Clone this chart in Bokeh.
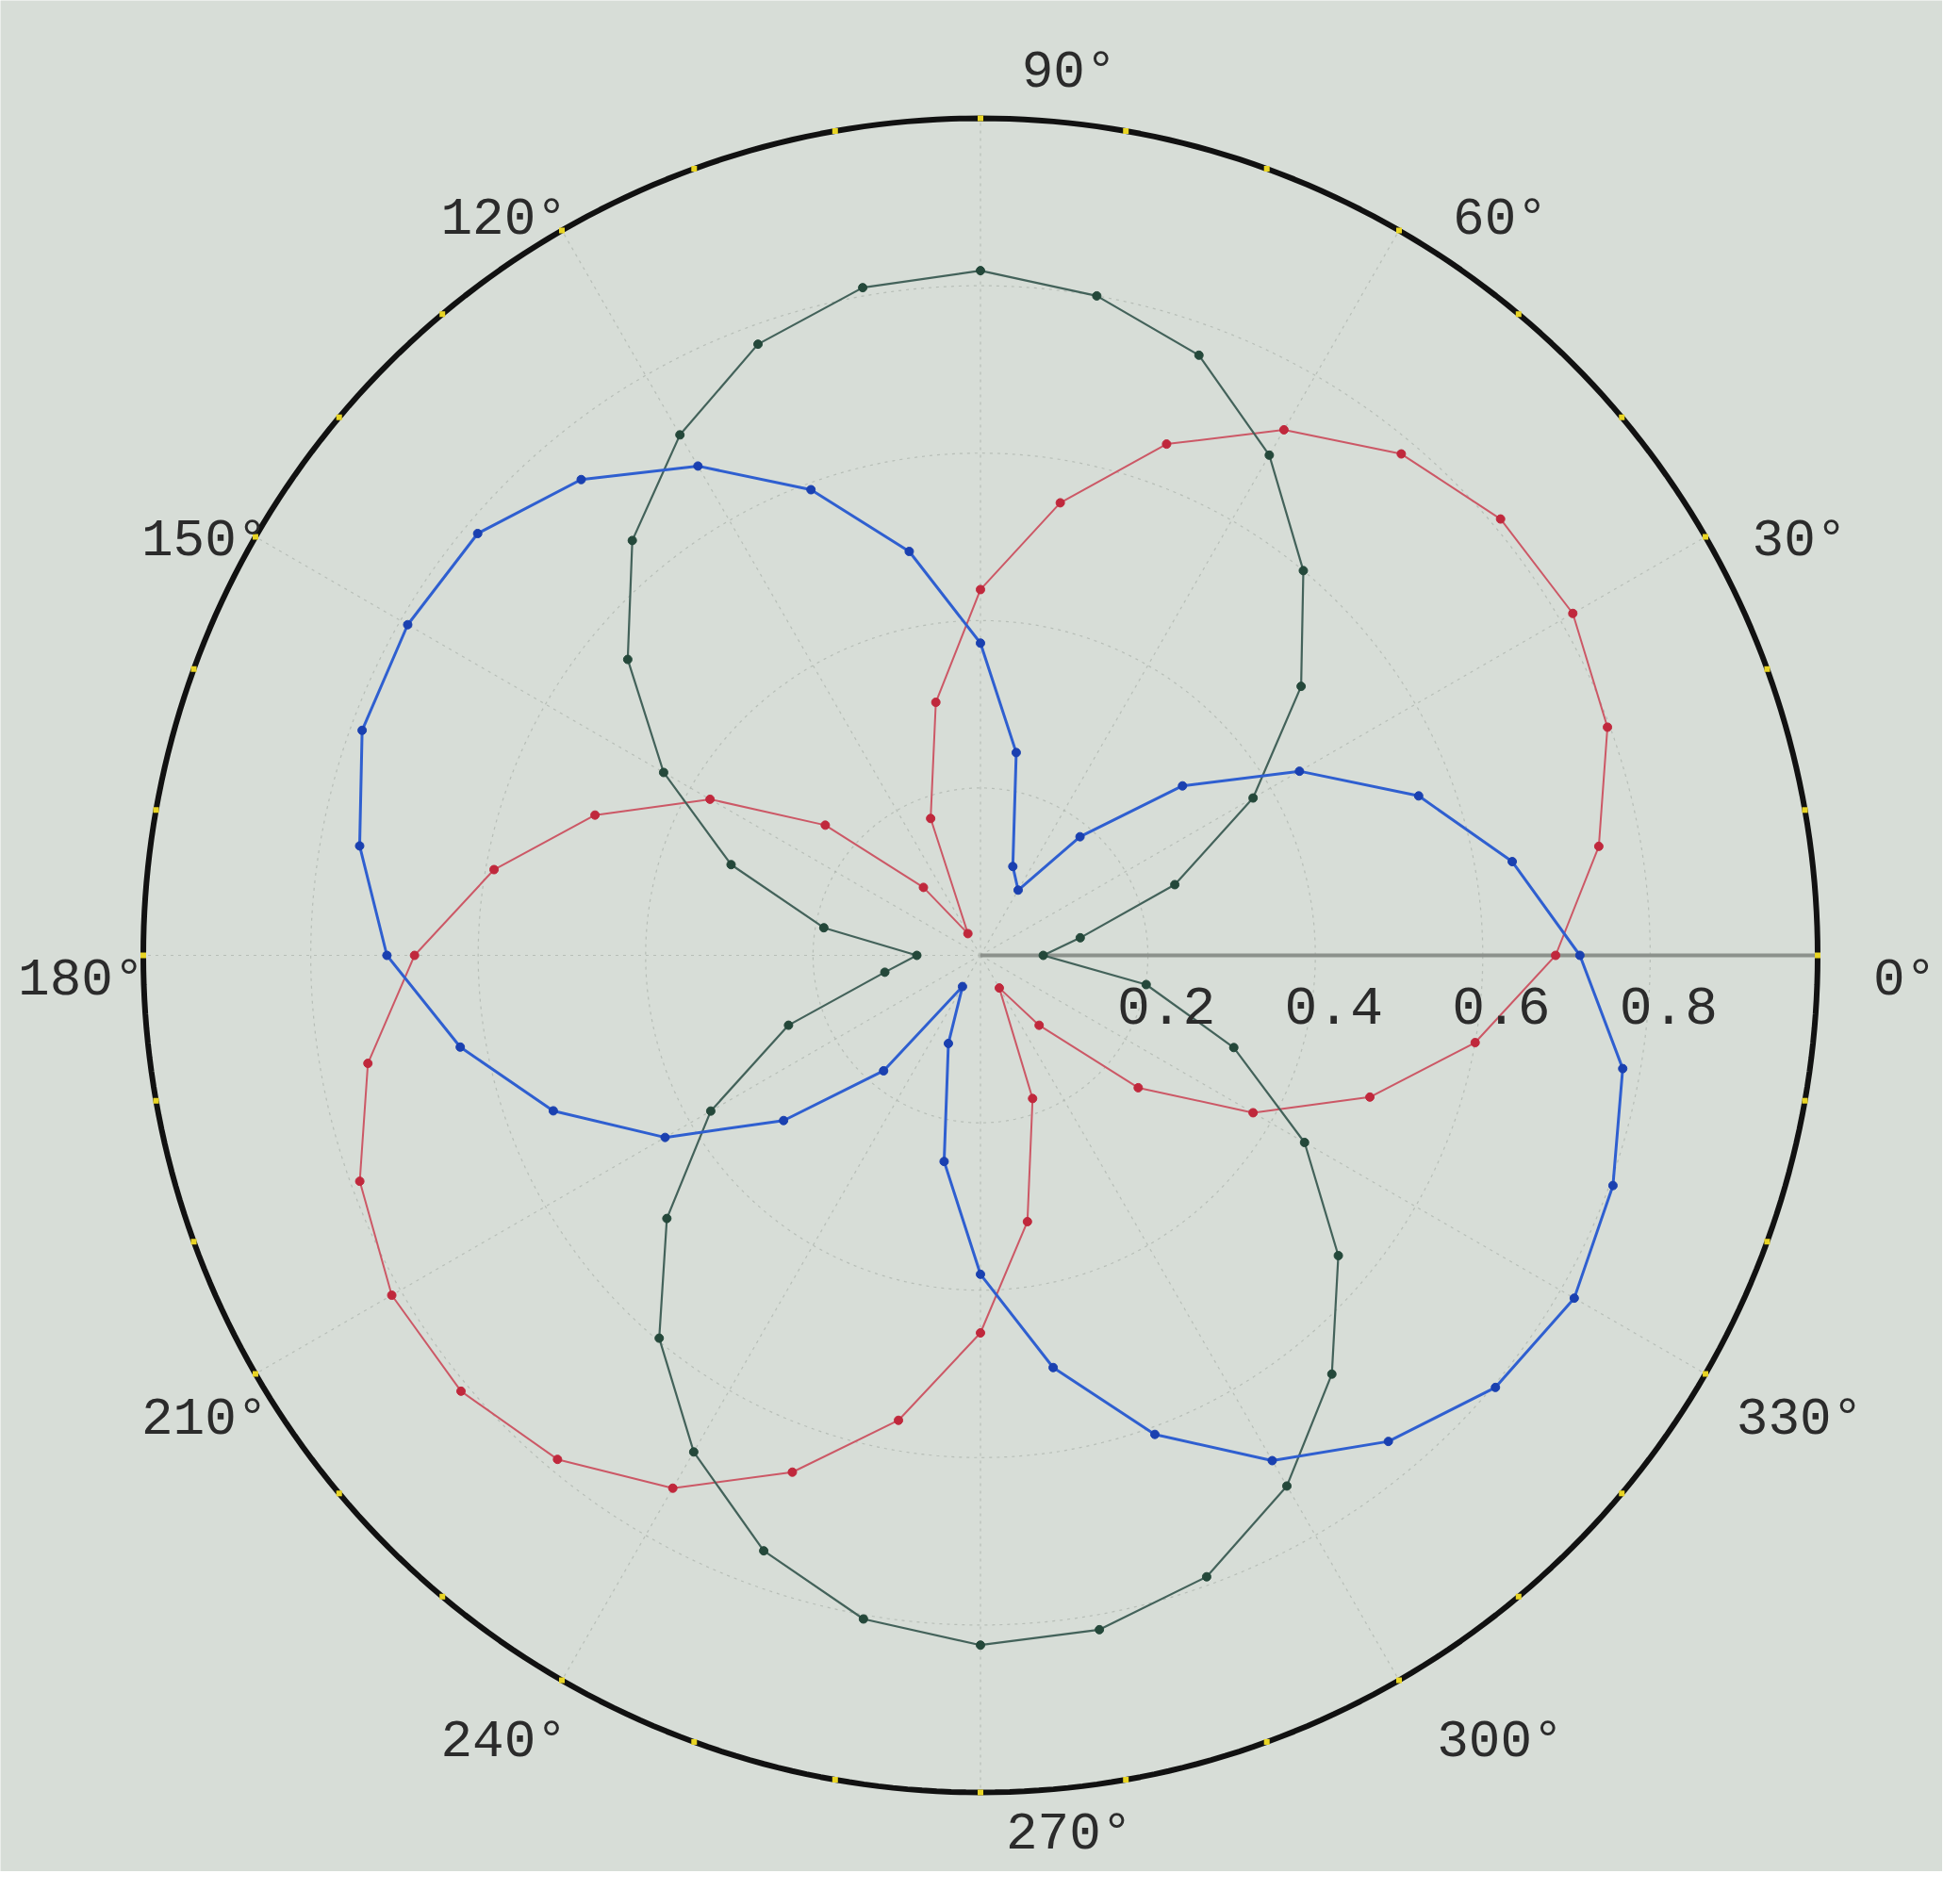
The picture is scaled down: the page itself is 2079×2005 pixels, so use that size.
import numpy as np
from bokeh.plotting import figure
from bokeh.models import Range1d
from bokeh.embed import file_html
from bokeh.resources import INLINE
from bokeh.core.properties import value

# ---- data ----
theta_deg = [0, 10, 20, 30, 40, 50, 60, 70, 80, 90, 100, 110,
             120, 130, 140, 150, 160, 170, 180, 190, 200, 210, 220, 230,
             240, 250, 260, 270, 280, 290, 300, 310, 320, 330, 340, 350]

r_blue = [0.716, 0.645, 0.557, 0.440, 0.315, 0.185, 0.090, 0.113, 0.246, 0.373, 0.490, 0.592,
          0.675, 0.742, 0.784, 0.790, 0.786, 0.753, 0.709, 0.631, 0.543, 0.435, 0.307, 0.180,
          0.043, 0.112, 0.250, 0.381, 0.500, 0.609, 0.697, 0.758, 0.803, 0.819, 0.804, 0.779]

r_red = [0.687, 0.750, 0.797, 0.817, 0.811, 0.782, 0.725, 0.650, 0.549, 0.437, 0.307, 0.174,
         0.030, 0.106, 0.242, 0.373, 0.490, 0.590, 0.676, 0.743, 0.789, 0.812, 0.810, 0.786,
         0.735, 0.657, 0.564, 0.451, 0.323, 0.182, 0.045, 0.109, 0.246, 0.376, 0.495, 0.600]

r_green = [0.075, 0.121, 0.247, 0.376, 0.500, 0.600, 0.690, 0.763, 0.800, 0.818, 0.810, 0.777,
           0.718, 0.647, 0.550, 0.437, 0.317, 0.190, 0.076, 0.116, 0.244, 0.372, 0.489, 0.597,
           0.685, 0.757, 0.805, 0.824, 0.818, 0.790, 0.732, 0.653, 0.558, 0.447, 0.322, 0.201]

angle_ticks = [0, 30, 60, 90, 120, 150, 180, 210, 240, 270, 300, 330]
angle_labels = ["0°", "30°", "60°", "90°", "120°", "150°", "180°", "210°", "240°", "270°", "300°", "330°"]
radial_ticks = [0.2, 0.4, 0.6, 0.8]
radial_labels = ["0.2", "0.4", "0.6", "0.8"]
r_max = 1.0

# ---- layout ----
W, H = 2060, 1985
PX = 888.0               # pixels per data unit
CX, CY = 1039.5, 1013.0  # centre of the polar area inside the canvas (px)
x0, x1 = -CX / PX, (W - CX) / PX
y0, y1 = -(H - CY) / PX, CY / PX

BG = "#d7ddd7"
p = figure(width=W, height=H, x_range=Range1d(x0, x1), y_range=Range1d(y0, y1),
           output_backend="svg", toolbar_location=None, min_border=0)
p.axis.visible = False
p.grid.visible = False
p.outline_line_color = None
p.background_fill_color = BG
p.border_fill_color = BG

# grid circles
t = np.linspace(0, 2 * np.pi, 361)
for rr in radial_ticks:
    p.line(rr * np.cos(t), rr * np.sin(t), line_color="#aab0aa", line_width=1.2,
           line_dash="3 5", line_alpha=0.7)

# spokes
for a in angle_ticks:
    if a == 0:
        continue
    ar = np.deg2rad(a)
    p.line([0, r_max * np.cos(ar)], [0, r_max * np.sin(ar)], line_color="#aab0aa",
           line_width=1.2, line_dash="3 5", line_alpha=0.7)
# 0-degree radial axis line
p.line([0, r_max], [0, 0], line_color="#8c918c", line_width=4)

# outer circle
p.line(r_max * np.cos(t), r_max * np.sin(t), line_color="#111111", line_width=6)
# small yellow marks on the rim
rim = np.deg2rad(np.arange(0, 360, 10))
p.scatter(r_max * np.cos(rim), r_max * np.sin(rim), marker="square", size=6,
          fill_color="#e8d424", line_color=None)

# curves
th = np.deg2rad(np.array(theta_deg + [theta_deg[0]], dtype=float))
series = [
    (r_red, "#cc5866", "#c0283c", 2.0),
    (r_green, "#43625a", "#24483a", 2.2),
    (r_blue, "#2f5fd0", "#1a40b0", 3.0),
]
for rv, lc, mc, lw in series:
    rr = np.array(rv + [rv[0]], dtype=float)
    x = rr * np.cos(th)
    y = rr * np.sin(th)
    p.line(x, y, line_color=lc, line_width=lw)
    p.scatter(x[:-1], y[:-1], marker="circle", size=9, fill_color=mc, line_color=mc)

# angle labels
lx, ly = [], []
for a in angle_ticks:
    ar = np.deg2rad(a)
    c, s = np.cos(ar), np.sin(ar)
    xx = 1.1 * c + 0.026
    yy = 1.05 * s - 0.03
    if 0.7 < abs(s) < 0.99:
        xx += 0.045 * np.sign(c)
    if abs(c) < 1e-6:
        xx += 0.08
        yy += 0.035 * np.sign(s)
    lx.append(min(xx, x1 - 0.045))
    ly.append(max(yy, y0 + 0.045))
p.text(x=lx, y=ly, text=angle_labels, text_font=value("Liberation Mono"),
       text_font_size="56px", text_align="center", text_baseline="middle",
       text_color="#2b2b2b")

# radial labels
p.text(x=[v + 0.022 for v in radial_ticks], y=[-0.06] * len(radial_ticks), text=radial_labels,
       text_font=value("Liberation Mono"), text_font_size="58px", text_align="center",
       text_baseline="middle", text_color="#2b2b2b")

open("out.html", "w").write(file_html(p, INLINE))
